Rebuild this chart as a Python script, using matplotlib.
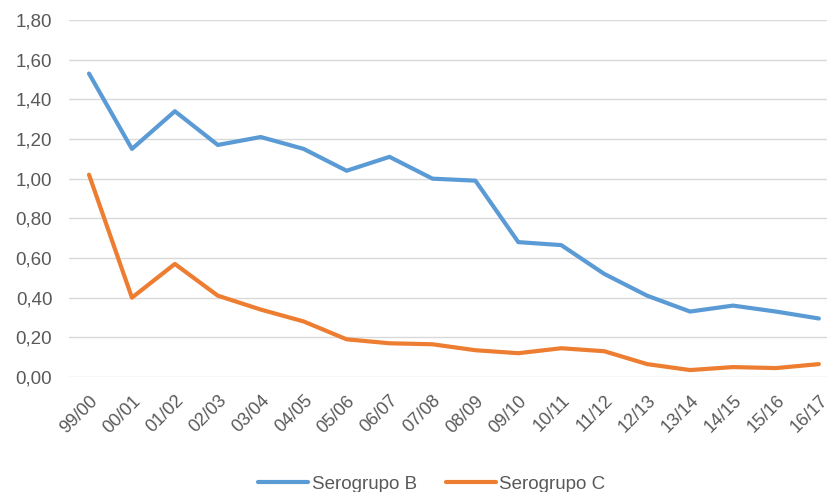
import matplotlib
matplotlib.use("Agg")
import matplotlib.pyplot as plt
import matplotlib.transforms as mtransforms
from matplotlib.ticker import FuncFormatter

seasons = ["99/00", "00/01", "01/02", "02/03", "03/04", "04/05", "05/06", "06/07", "07/08",
           "08/09", "09/10", "10/11", "11/12", "12/13", "13/14", "14/15", "15/16", "16/17"]
serogrupo_b = [1.53, 1.15, 1.34, 1.17, 1.21, 1.15, 1.04, 1.11, 1.00,
               0.99, 0.68, 0.665, 0.52, 0.41, 0.33, 0.36, 0.33, 0.295]
serogrupo_c = [1.02, 0.40, 0.57, 0.41, 0.34, 0.28, 0.19, 0.17, 0.165,
               0.135, 0.12, 0.145, 0.13, 0.065, 0.035, 0.05, 0.045, 0.065]
y_ticks = [0.0, 0.2, 0.4, 0.6, 0.8, 1.0, 1.2, 1.4, 1.6, 1.8]

plt.rcParams['font.family'] = ['Liberation Sans', 'DejaVu Sans']

W, H = 827, 492
fig = plt.figure(figsize=(W / 100, H / 100), dpi=100)
left, right, top, bottom = 69, 827, 20, 377
ax = fig.add_axes([left / W, 1 - bottom / H, (right - left) / W, (bottom - top) / H])

x = list(range(len(seasons)))
ax.plot(x, serogrupo_b, color="#5B9BD5", lw=3.0, solid_capstyle="round",
        solid_joinstyle="round", label="Serogrupo B")
ax.plot(x, serogrupo_c, color="#ED7D31", lw=3.0, solid_capstyle="round",
        solid_joinstyle="round", label="Serogrupo C")

ax.set_ylim(0, 1.8)
ax.set_xlim(-0.466, 17.19)
ax.set_yticks(y_ticks)
ax.yaxis.set_major_formatter(FuncFormatter(lambda v, p: f"{v:.2f}".replace(".", ",")))
ax.set_xticks(x)
ax.set_xticklabels(seasons, rotation=45, ha="right", rotation_mode="anchor")
offset = mtransforms.ScaledTranslation(-8 / 100, 0, fig.dpi_scale_trans)
for lab in ax.get_xticklabels():
    lab.set_transform(lab.get_transform() + offset)
ax.grid(axis="y", color="#D9D9D9", lw=1.0)
ax.set_axisbelow(True)
for s in ax.spines.values():
    s.set_visible(False)
ax.tick_params(axis="y", length=0, labelsize=13.5, colors="#595959", pad=12)
ax.tick_params(axis="x", length=0, labelsize=13, colors="#595959", pad=11)

leg = fig.legend(loc="center", bbox_to_anchor=(432 / W, 1 - 484 / H), ncol=2, frameon=False,
                 fontsize=13.5, handlelength=2.67, columnspacing=1.55, handletextpad=0.18,
                 borderpad=0.1)
for t in leg.get_texts():
    t.set_color("#595959")

fig.savefig("out.png", dpi=100)
